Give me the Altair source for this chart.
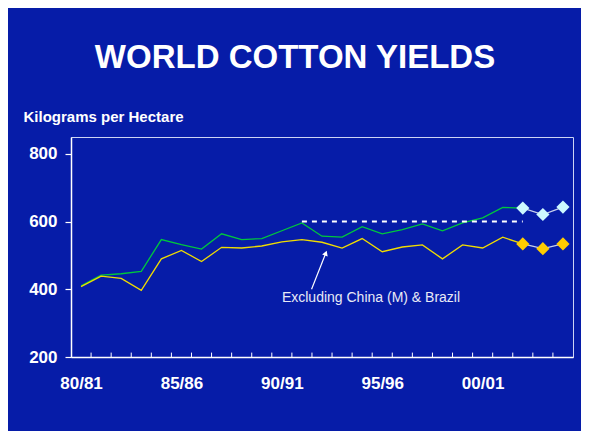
import altair as alt
import pandas as pd

# ---- data ----
seasons = ["80/81", "81/82", "82/83", "83/84", "84/85", "85/86", "86/87", "87/88",
           "88/89", "89/90", "90/91", "91/92", "92/93", "93/94", "94/95", "95/96",
           "96/97", "97/98", "98/99", "99/00", "00/01", "01/02", "02/03", "03/04",
           "04/05"]
world = [410, 442, 446, 453, 547, 532, 519, 564, 547, 550, 573, 596, 557, 554,
         585, 564, 576, 593, 573, 596, 611, 642, 640]
excl = [408, 439, 432, 397, 490, 515, 482, 524, 522, 528, 540, 547, 539, 522,
        550, 511, 525, 531, 490, 531, 522, 554, 534]
proj_seasons = ["02/03", "03/04", "04/05"]
world_proj = [640, 621, 643]
excl_proj = [534, 520, 534]
ref_level = 600
ref_seasons = ["91/92", "02/03"]
label_seasons = ["80/81", "85/86", "90/91", "95/96", "00/01"]
note = "Excluding China (M) & Brazil"
note_xy = [14.44, 373]
arrow_from = [11.48, 400]
arrow_to = [12.19, 507]

FONT = "Liberation Sans"
BG = "#061ca8"

idx = {s: i for i, s in enumerate(seasons)}

df_world = pd.DataFrame({"i": list(range(len(world))), "v": world})
df_excl = pd.DataFrame({"i": list(range(len(excl))), "v": excl})
df_wp = pd.DataFrame({"i": [idx[s] for s in proj_seasons], "v": world_proj})
df_ep = pd.DataFrame({"i": [idx[s] for s in proj_seasons], "v": excl_proj})
df_ref = pd.DataFrame({"i": [idx[s] for s in ref_seasons], "v": [ref_level] * 2})
df_ticks = pd.DataFrame({"i": [k + 0.5 for k in range(len(seasons) - 1)],
                         "v": [200] * (len(seasons) - 1),
                         "v2": [213] * (len(seasons) - 1)})
df_note = pd.DataFrame({"i": [note_xy[0]], "v": [note_xy[1]], "t": [note]})
df_arrow = pd.DataFrame({"i": [arrow_from[0]], "v": [arrow_from[1]],
                         "i2": [arrow_to[0]], "v2": [arrow_to[1]]})
df_head = pd.DataFrame({"i": [arrow_to[0]], "v": [arrow_to[1]]})

label_expr = "[" + ",".join(f"'{s}'" for s in seasons) + "][datum.value]"

xscale = alt.Scale(domain=[-0.5, len(seasons) - 0.5], nice=False, zero=False)
yscale = alt.Scale(domain=[200, 850], nice=False, zero=False)

x_axis = alt.Axis(values=[idx[s] for s in label_seasons], labelExpr=label_expr,
                  ticks=False, tickSize=0, grid=False, title=None,
                  domainColor="white", domainWidth=1.5,
                  labelColor="white", labelFont=FONT, labelFontSize=17,
                  labelFontWeight="bold", labelPadding=18)
y_axis = alt.Axis(values=[200, 400, 600, 800], grid=False,
                  domainColor="white", domainWidth=1.5,
                  tickColor="white", tickSize=6, tickWidth=1.2,
                  labelColor="white", labelFont=FONT, labelFontSize=17,
                  labelFontWeight="bold", labelPadding=8,
                  title="Kilograms per Hectare", titleAngle=0, titleAlign="left",
                  titleBaseline="alphabetic", titleX=-48, titleY=-16,
                  titleColor="white", titleFont=FONT, titleFontSize=15,
                  titleFontWeight="bold")


def X():
    return alt.X("i:Q", scale=xscale, axis=x_axis)


def Y():
    return alt.Y("v:Q", scale=yscale, axis=y_axis)


green = alt.Chart(df_world).mark_line(color="#00c83c", strokeWidth=1.3).encode(
    x=X(), y=Y())
yellow = alt.Chart(df_excl).mark_line(color="#f0dc00", strokeWidth=1.3).encode(
    x=X(), y=Y())
wp_line = alt.Chart(df_wp).mark_line(color="#c8d0ec", strokeWidth=1.3).encode(x=X(), y=Y())
ep_line = alt.Chart(df_ep).mark_line(color="#c8d0ec", strokeWidth=1.3).encode(x=X(), y=Y())
wp_pts = alt.Chart(df_wp).mark_point(shape="diamond", filled=True, color="#ccf8ff",
                                     size=175, opacity=1).encode(x=X(), y=Y())
ep_pts = alt.Chart(df_ep).mark_point(shape="diamond", filled=True, color="#ffcc00",
                                     size=175, opacity=1).encode(x=X(), y=Y())
ref = alt.Chart(df_ref).mark_line(color="white", strokeWidth=2,
                                  strokeDash=[5, 5]).encode(x=X(), y=Y())
ticks = alt.Chart(df_ticks).mark_rule(color="white", strokeWidth=1).encode(
    x=X(), y=Y(), y2="v2:Q")
arrow = alt.Chart(df_arrow).mark_rule(color="white", strokeWidth=1.2).encode(
    x=X(), y=Y(), x2="i2:Q", y2="v2:Q")
head = alt.Chart(df_head).mark_point(shape="triangle-up", filled=True, color="white",
                                     size=35, angle=21, opacity=1).encode(x=X(), y=Y())
note_t = alt.Chart(df_note).mark_text(color="#e8eaf6", font=FONT, fontSize=14,
                                      align="center", baseline="middle").encode(
    x=X(), y=Y(), text="t:N")

chart = alt.layer(green, yellow, ticks, ref, wp_line, ep_line, wp_pts, ep_pts,
                  arrow, head, note_t).properties(
    width=502, height=220,
    background=BG,
    autosize=alt.AutoSizeParams(type="none"),
    padding={"left": 63, "top": 129, "right": 8, "bottom": 74},
    title=alt.TitleParams("WORLD COTTON YIELDS", font=FONT, fontSize=33,
                          fontWeight="bold", color="white", anchor="middle",
                          frame="group", dx=-27, offset=8, baseline="alphabetic"),
).configure_view(stroke="#ccd4f4", strokeWidth=1)

chart.save("out.html", embed_options={"renderer": "svg", "actions": False})
